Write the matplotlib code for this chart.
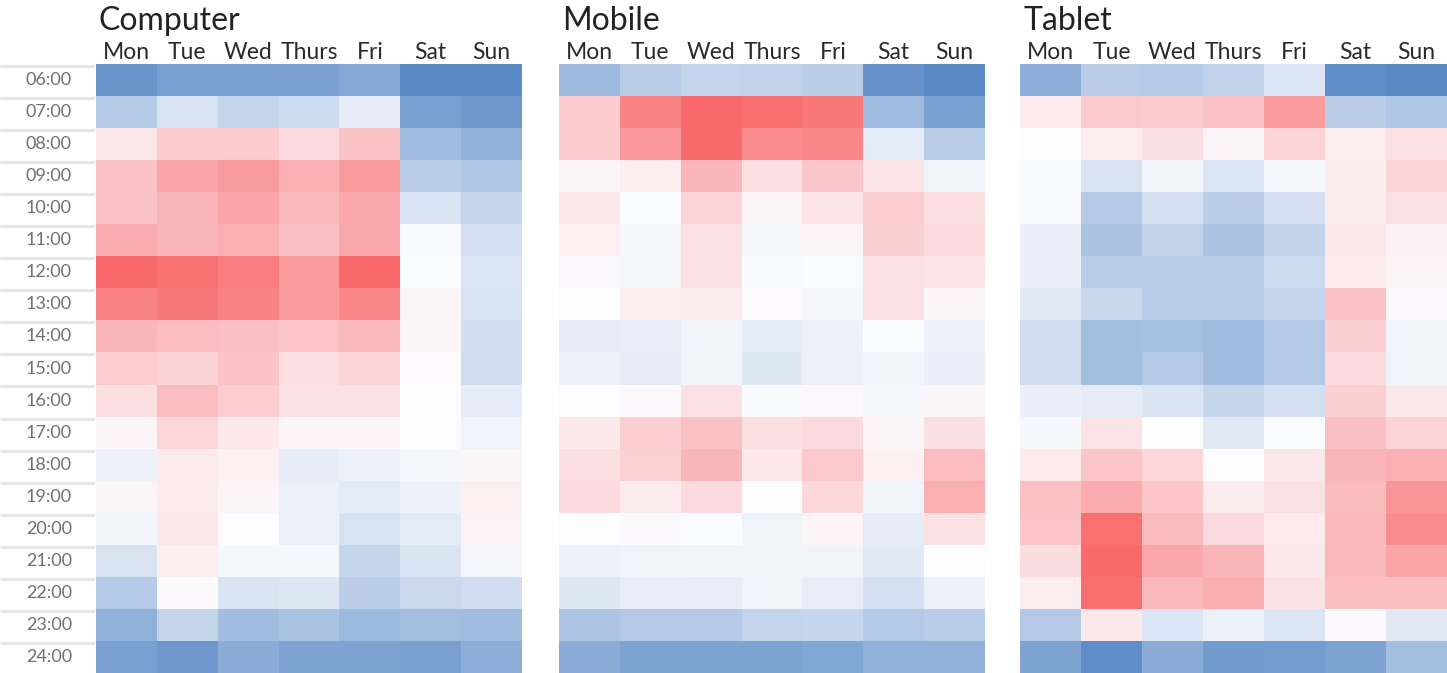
import numpy as np
import matplotlib
matplotlib.use("Agg")
import matplotlib.pyplot as plt
from matplotlib.colors import LinearSegmentedColormap

plt.rcParams['font.family'] = ['Lato', 'DejaVu Sans']

days = ["Mon", "Tue", "Wed", "Thurs", "Fri", "Sat", "Sun"]
hours = ["06:00", "07:00", "08:00", "09:00", "10:00", "11:00", "12:00", "13:00",
         "14:00", "15:00", "16:00", "17:00", "18:00", "19:00", "20:00", "21:00",
         "22:00", "23:00", "24:00"]

# relative intensity per device (-1 = lowest / blue, +1 = highest / red)
computer = [
    [-0.90, -0.82, -0.82, -0.80, -0.73, -1.00, -0.99],
    [-0.45, -0.23, -0.35, -0.30, -0.14, -0.82, -0.88],
    [0.14, 0.33, 0.33, 0.24, 0.39, -0.57, -0.65],
    [0.39, 0.59, 0.65, 0.51, 0.66, -0.40, -0.47],
    [0.39, 0.48, 0.59, 0.45, 0.57, -0.21, -0.33],
    [0.55, 0.48, 0.52, 0.41, 0.57, -0.02, -0.25],
    [0.99, 0.93, 0.86, 0.66, 1.00, -0.01, -0.20],
    [0.82, 0.90, 0.82, 0.66, 0.80, 0.05, -0.22],
    [0.48, 0.43, 0.41, 0.37, 0.46, 0.05, -0.26],
    [0.32, 0.28, 0.39, 0.20, 0.27, 0.01, -0.26],
    [0.20, 0.43, 0.32, 0.18, 0.18, 0.00, -0.14],
    [0.04, 0.25, 0.13, 0.04, 0.04, 0.00, -0.08],
    [-0.09, 0.12, 0.08, -0.13, -0.09, -0.04, 0.04],
    [0.05, 0.12, 0.05, -0.10, -0.15, -0.09, 0.09],
    [-0.06, 0.15, 0.00, -0.10, -0.23, -0.15, 0.06],
    [-0.22, 0.10, -0.04, -0.04, -0.33, -0.21, -0.04],
    [-0.43, 0.02, -0.21, -0.18, -0.40, -0.31, -0.27],
    [-0.67, -0.35, -0.55, -0.50, -0.60, -0.54, -0.56],
    [-0.80, -0.87, -0.70, -0.78, -0.78, -0.80, -0.68],
]

mobile = [
    [-0.58, -0.42, -0.35, -0.36, -0.40, -0.92, -1.00],
    [0.33, 0.82, 1.00, 0.96, 0.90, -0.57, -0.79],
    [0.33, 0.67, 0.98, 0.77, 0.80, -0.15, -0.42],
    [0.05, 0.10, 0.47, 0.20, 0.36, 0.17, -0.08],
    [0.13, -0.01, 0.27, 0.05, 0.17, 0.32, 0.20],
    [0.09, -0.04, 0.18, -0.05, 0.05, 0.30, 0.23],
    [0.02, -0.04, 0.18, -0.03, -0.01, 0.18, 0.16],
    [0.00, 0.10, 0.11, 0.01, -0.04, 0.18, 0.05],
    [-0.14, -0.12, -0.07, -0.15, -0.10, -0.01, -0.09],
    [-0.10, -0.13, -0.06, -0.18, -0.10, -0.07, -0.11],
    [0.00, 0.03, 0.18, -0.02, 0.03, -0.04, 0.04],
    [0.13, 0.31, 0.40, 0.20, 0.23, 0.04, 0.19],
    [0.20, 0.29, 0.48, 0.14, 0.35, 0.08, 0.43],
    [0.22, 0.11, 0.22, 0.00, 0.25, -0.08, 0.51],
    [0.00, 0.02, -0.01, -0.08, 0.05, -0.13, 0.18],
    [-0.10, -0.08, -0.07, -0.07, -0.08, -0.17, 0.00],
    [-0.18, -0.12, -0.12, -0.07, -0.12, -0.25, -0.10],
    [-0.48, -0.45, -0.43, -0.35, -0.33, -0.44, -0.41],
    [-0.70, -0.78, -0.77, -0.77, -0.75, -0.67, -0.66],
]

tablet = [
    [-0.68, -0.42, -0.43, -0.36, -0.20, -0.97, -1.00],
    [0.12, 0.35, 0.33, 0.39, 0.66, -0.40, -0.47],
    [0.00, 0.10, 0.19, 0.06, 0.27, 0.10, 0.18],
    [-0.03, -0.22, -0.06, -0.20, -0.04, 0.11, 0.27],
    [-0.03, -0.45, -0.25, -0.40, -0.25, 0.11, 0.18],
    [-0.11, -0.50, -0.36, -0.50, -0.36, 0.15, 0.07],
    [-0.11, -0.42, -0.42, -0.42, -0.30, 0.12, 0.06],
    [-0.17, -0.32, -0.42, -0.42, -0.34, 0.38, 0.03],
    [-0.26, -0.54, -0.53, -0.56, -0.44, 0.30, -0.07],
    [-0.26, -0.54, -0.45, -0.56, -0.44, 0.22, -0.08],
    [-0.11, -0.14, -0.21, -0.33, -0.25, 0.30, 0.14],
    [-0.04, 0.17, 0.00, -0.17, -0.01, 0.41, 0.27],
    [0.12, 0.37, 0.26, 0.00, 0.14, 0.48, 0.51],
    [0.40, 0.55, 0.37, 0.11, 0.18, 0.44, 0.70],
    [0.37, 0.95, 0.44, 0.23, 0.12, 0.46, 0.76],
    [0.21, 0.99, 0.57, 0.48, 0.13, 0.45, 0.60],
    [0.10, 0.96, 0.46, 0.53, 0.18, 0.42, 0.42],
    [-0.44, 0.14, -0.20, -0.10, -0.20, 0.03, -0.17],
    [-0.78, -0.97, -0.70, -0.85, -0.84, -0.78, -0.54],
]

panels = [("Computer", computer), ("Mobile", mobile), ("Tablet", tablet)]

cmap = LinearSegmentedColormap.from_list("excel3", ["#5A8AC6", "#FCFCFF", "#F8696B"])

W, H = 1447, 673
fig = plt.figure(figsize=(W / 100, H / 100), dpi=100)
fig.patch.set_facecolor("white")

top_px = 64
grid_h = H - top_px
lefts = [96, 559, 1020]
rights = [522, 985, 1447]

# row label column
lab_ax = fig.add_axes([0, 0, 95 / W, grid_h / H])
lab_ax.set_xlim(0, 95)
lab_ax.set_ylim(len(hours), 0)
lab_ax.axis("off")
for i, h in enumerate(hours):
    lab_ax.text(72, i + 0.5, h, ha="right", va="center", fontsize=13,
                color="#707070")
for i in range(len(hours) + 1):
    lab_ax.hlines(i + 0.06, 0, 95, color="#e4e4e4", lw=2)

for (name, data), l, r in zip(panels, lefts, rights):
    ax = fig.add_axes([l / W, 0, (r - l) / W, grid_h / H])
    arr = np.array(data)
    ax.pcolormesh(np.arange(len(days) + 1), np.arange(len(hours) + 1), arr,
                  cmap=cmap, vmin=-1, vmax=1, shading="flat")
    ax.set_xlim(0, len(days))
    ax.set_ylim(len(hours), 0)
    for s in ax.spines.values():
        s.set_visible(False)
    ax.xaxis.tick_top()
    ax.set_xticks(np.arange(len(days)) + 0.5)
    ax.set_xticklabels(days, fontsize=16.5, color="#2a2a2a")
    ax.tick_params(axis="x", length=0, pad=1)
    ax.set_yticks([])
    ax.text(3 / (r - l), 1 + (top_px - 30) / grid_h, name, transform=ax.transAxes,
            ha="left", va="baseline", fontsize=23, color="#222222")

fig.savefig("out.png", dpi=100, facecolor="white")
